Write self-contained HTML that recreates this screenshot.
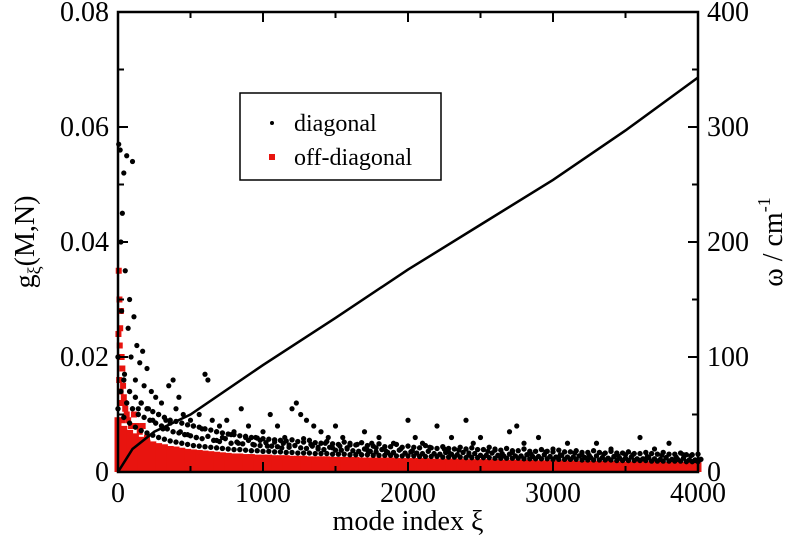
<!DOCTYPE html>
<html><head><meta charset="utf-8"><style>
html,body{margin:0;padding:0;background:#fff;}
svg{display:block;font-family:"Liberation Serif",serif;}
</style></head><body>
<svg id="chart" width="800" height="548"></svg>
<script>
// ---- data ----
const lineX=[0,100,250,500,1000,1500,2000,2500,3000,3500,4000];
const lineW=[0,20,35,50,93,134,176,215,254,297,343];
const gridStep=40;
const offHi=[.009,.0075,.0068,.0062,.0056,.0051,.0048,.0045,.0043,.004,
.0039,.0037,.0035,.0034,.0033,.0032,.0031,.003,.0029,.0028,
.0027,.0027,.0026,.0026,.0025,.0025,.0025,.0024,.0024,.0024,
.0023,.0023,.0023,.0022,.0022,.0022,.0022,.0021,.0021,.0021,
.0021,.0021,.002,.002,.002,.002,.002,.002,.0019,.0019,
.0019,.0019,.0019,.0019,.0018,.0018,.0018,.0018,.0018,.0018,
.0017,.0017,.0017,.0017,.0017,.0017,.0016,.0016,.0016,.0016,
.0016,.0016,.0015,.0015,.0015,.0015,.0015,.0015,.0015,.0014,
.0014,.0014,.0014,.0014,.0014,.0014,.0013,.0013,.0013,.0013,
.0013,.0013,.0013,.0012,.0012,.0012,.0012,.0012,.0012,.0012,.0012];
const redX=[5,10,15,20,25,30,8,12,18,22,35,40,50,60,3,28,45,70,90,110,130,150,170,200];
const redY=[.035,.03,.025,.028,.02,.018,.016,.022,.014,.012,.015,.013,.011,.01,.024,.009,.012,.009,.008,.01,.008,.007,.008,.006];
const diagBand=[.014,.012,.011,.010,.0095,.009,.0085,.008,.0075,.007,
.0068,.0065,.0063,.006,.0058,.0062,.0055,.0053,.0058,.005,
.0052,.0049,.0055,.0047,.0046,.0051,.0045,.0044,.005,.0043,
.0046,.0042,.0041,.0045,.004,.0039,.0043,.0038,.0038,.0042,
.0037,.0036,.004,.0036,.0035,.0039,.0034,.0034,.0038,.0033,
.0035,.0033,.0032,.0036,.0032,.0031,.0034,.0031,.003,.0034,
.003,.0032,.0029,.0029,.0033,.0029,.0028,.0031,.0028,.0028,
.003,.0027,.0027,.003,.0027,.0026,.0029,.0026,.0026,.0028,
.0025,.0025,.0028,.0025,.0024,.0027,.0024,.0024,.0026,.0023,
.0023,.0025,.0023,.0022,.0025,.0022,.0022,.0024,.0021,.0021,.0022];
const diagBand2=[.02,.016,.014,.013,.012,.011,.0105,.01,.0095,.009,
.0088,.0085,.0082,.008,.0078,.0075,.0073,.007,.0068,.0066,
.0065,.0063,.0062,.006,.0059,.0058,.0057,.0056,.0055,.0054,
.0056,.0053,.0052,.0055,.0051,.005,.0053,.0049,.0048,.0052,
.0047,.0047,.0051,.0046,.0045,.0049,.0044,.0044,.0048,.0043,
.0045,.0043,.0042,.0046,.0042,.0041,.0044,.0041,.004,.0043,
.004,.0042,.0039,.0039,.0043,.0038,.0038,.0041,.0037,.0037,
.004,.0036,.0036,.0039,.0036,.0035,.0038,.0035,.0035,.0037,
.0034,.0034,.0037,.0034,.0033,.0036,.0033,.0033,.0035,.0032,
.0032,.0034,.0032,.0031,.0034,.0031,.0031,.0033,.003,.003,.0031];
const diagBand3=[.011,.0095,.0085,.0078,.0072,.0068,.0064,.006,.0057,.0054,
.0052,.005,.0048,.0046,.0045,.0044,.0043,.0042,.0041,.004,
.0039,.0039,.0038,.0037,.0037,.0036,.0036,.0035,.0035,.0034,
.0034,.0033,.0033,.0033,.0032,.0032,.0032,.0031,.0031,.0031,
.003,.003,.003,.003,.0029,.0029,.0029,.0029,.0028,.0028,
.0028,.0028,.0027,.0027,.0027,.0027,.0026,.0026,.0026,.0026,
.0025,.0025,.0025,.0025,.0025,.0024,.0024,.0024,.0024,.0024,
.0023,.0023,.0023,.0023,.0023,.0022,.0022,.0022,.0022,.0022,
.0021,.0021,.0021,.0021,.0021,.0021,.002,.002,.002,.002,
.002,.002,.0019,.0019,.0019,.0019,.0019,.0019,.0018,.0018,.0018];
const diagX=[5,15,30,40,60,100,20,50,80,25,70,110,130,90,150,170,200,45,120,180,230,260,300,350,380,420,160,210,280,330,400,450,500,520,600,620,560,650,700,750,800,850,900,950,1000,1050,1100,1150,1200,1230,1260,1300,1350,1400,1450,1500,1550,1600,1700,1750,1800,1900,2000,2050,2100,2200,2250,2300,2400,2450,2500,2600,2700,2750,2800,2900,3000,3100,3200,3300,3400,3500,3600,3700,3800,3900,3980,
140,240,310,360,430,480,540,580,680,720,780,830,880,930,980,1030,1080,1130,1180,1280,1330,1380,1430,1480,1530,1580,1650,1720,1780,1850,1950,2030,2150,2280,2350,2420,2550,2650,2720,2850,2950,3050,3150,3250,3350,3450,3550,3650,3750,3850,3950];
const diagY=[.057,.056,.045,.052,.055,.054,.04,.035,.03,.028,.025,.027,.022,.02,.019,.021,.018,.017,.016,.015,.014,.013,.012,.015,.016,.013,.012,.011,.010,.009,.011,.010,.009,.008,.017,.016,.010,.009,.008,.009,.007,.011,.008,.006,.007,.010,.008,.006,.011,.012,.010,.009,.008,.007,.006,.008,.006,.005,.007,.005,.006,.005,.009,.006,.005,.008,.004,.006,.009,.005,.006,.004,.007,.008,.005,.006,.004,.005,.003,.005,.004,.003,.006,.004,.005,.003,.002,
.011,.009,.0075,.0085,.007,.0065,.006,.0075,.0055,.006,.0065,.005,.006,.0048,.0055,.0045,.0052,.0042,.0047,.0058,.0048,.0043,.005,.0042,.0045,.004,.0048,.0038,.0042,.0036,.004,.0037,.0043,.0035,.0038,.0033,.0036,.0032,.0034,.0031,.0035,.003,.0033,.0029,.0031,.0028,.003,.0027,.0029,.0026,.0028];

// ---- axes ----
const L=118,R=698,T=12,B=472;
const xs=v=>L+(v/4000)*(R-L);
const ys=v=>B-(v/0.08)*(B-T);
const yw=v=>B-(v/400)*(B-T);
const svg=document.getElementById('chart');
const NS='http://www.w3.org/2000/svg';
function mk(tag,attrs,parent){const e=document.createElementNS(NS,tag);for(const k in attrs)e.setAttribute(k,attrs[k]);(parent||svg).appendChild(e);return e;}

const gOff=mk('g',{});


offHi.forEach((v,i)=>{
  const x=i*gridStep;
  const r=mk('rect',{x:xs(x)-3.5,y:ys(v)-3,width:7,height:Math.max(6,B-ys(v)+3),fill:'#e8140f'},gOff);
  
  
});
redX.forEach((x,i)=>{
  const r=mk('rect',{x:xs(x)-3,y:ys(redY[i])-3,width:6,height:6,fill:'#e8140f'},gOff);
  
  
});
const gDiag=mk('g',{});


[[diagBand,20],[diagBand2,0],[diagBand3,0]].forEach(([arr,off])=>arr.forEach((v,i)=>{
  const c=mk('circle',{cx:xs(i*gridStep+off),cy:ys(v),r:2.7,fill:'#000'},gDiag);
  
  
}));
diagX.forEach((x,i)=>{
  const c=mk('circle',{cx:xs(x),cy:ys(diagY[i]),r:2.6,fill:'#000'},gDiag);
  
  
});
const pl=mk('polyline',{points:lineX.map((x,i)=>xs(x)+','+yw(lineW[i])).join(' '),fill:'none',stroke:'#000','stroke-width':2.5});



const frame=mk('rect',{x:L,y:T,width:R-L,height:B-T,fill:'none',stroke:'#000','stroke-width':2.5});



const xTicks=[0,1000,2000,3000,4000];
const yTicks=[0,0.02,0.04,0.06,0.08];
const yLabels=['0','0.02','0.04','0.06','0.08'];
const wTicks=[0,100,200,300,400];
for(let v=0;v<=4000;v+=500){const maj=v%1000===0;
  mk('line',{x1:xs(v),x2:xs(v),y1:B,y2:B-(maj?10:6),stroke:'#000','stroke-width':2});
  mk('line',{x1:xs(v),x2:xs(v),y1:T,y2:T+(maj?10:6),stroke:'#000','stroke-width':2});}
for(let v=0;v<=0.08001;v+=0.01){const maj=Math.round(v*100)%2===0;
  mk('line',{x1:L,x2:L+(maj?10:6),y1:ys(v),y2:ys(v),stroke:'#000','stroke-width':2});
  mk('line',{x1:R,x2:R-(maj?10:6),y1:ys(v),y2:ys(v),stroke:'#000','stroke-width':2});}
xTicks.forEach(v=>{const t=mk('text',{x:xs(v),y:502,'font-size':28,'text-anchor':'middle'});t.textContent=v;
  });
yTicks.forEach((v,i)=>{const t=mk('text',{x:L-9,y:ys(v)+9,'font-size':28,'text-anchor':'end'});t.textContent=yLabels[i];
  });
wTicks.forEach(v=>{const t=mk('text',{x:R+9,y:yw(v)+9,'font-size':28,'text-anchor':'start'});t.textContent=v;
  });
</script>
<svg style="position:absolute;left:0;top:0" width="800" height="548">
<text x="408" y="530" font-size="28" text-anchor="middle" font-family="Liberation Serif, serif">mode index ξ</text>
<text transform="translate(34,242) rotate(-90)" font-size="28" text-anchor="middle" font-family="Liberation Serif, serif">g<tspan font-size="18" dy="6">ξ</tspan><tspan dy="-6">(M,N)</tspan></text>
<text transform="translate(782,242) rotate(-90)" font-size="28" text-anchor="middle" font-family="Liberation Serif, serif">ω / cm<tspan font-size="18" dy="-12">-1</tspan></text>
<g>
<rect x="240" y="93" width="201" height="87" fill="#fff" stroke="#000" stroke-width="1.5"/>
<circle cx="272" cy="123" r="2" fill="#000"/>
<text x="294" y="131" font-size="24" font-family="Liberation Serif, serif">diagonal</text>
<rect x="269" y="154" width="6" height="6" fill="#e8140f"/>
<text x="294" y="165" font-size="24" font-family="Liberation Serif, serif">off-diagonal</text>
</g>
</svg>
</body></html>
